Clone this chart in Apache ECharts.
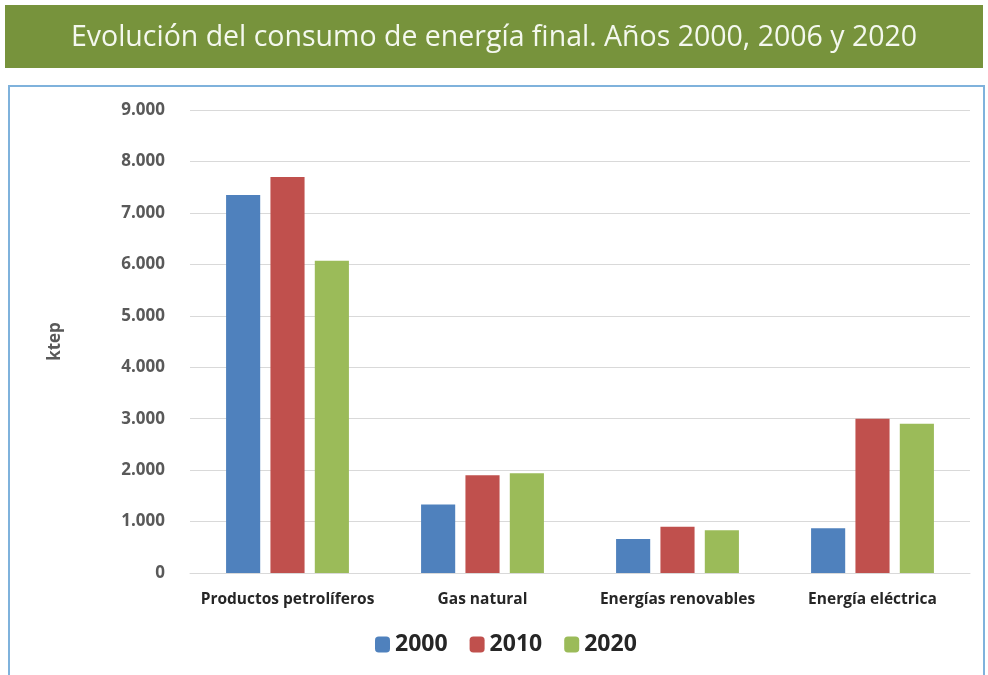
<!DOCTYPE html>
<html>
<head>
<meta charset="utf-8">
<script src="https://cdn.jsdelivr.net/npm/echarts@6/dist/echarts.min.js"></script>
<style>
  html, body { margin: 0; padding: 0; background: #fff; }
  #chart { width: 988px; height: 675px; }
</style>
</head>
<body>
<div id="chart"></div>
<script>
// categorías y valores (ktep)
const categories = ['Productos petrolíferos', 'Gas natural', 'Energías renovables', 'Energía eléctrica'];
const years = ['2000', '2010', '2020'];
const values2000 = [7350, 1330, 660, 870];
const values2010 = [7700, 1900, 900, 3000];
const values2020 = [6070, 1940, 830, 2900];
const colors = ['#4f81bd', '#c0504d', '#9bbb59'];

const chartInstance = echarts.init(document.getElementById('chart'));

// formato con punto de miles
const fmt = v => v === 0 ? '0' : String(v).replace(/\B(?=(\d{3})+(?!\d))/g, '.');

const option = {
  color: colors,
  animation: false,
  title: {
    text: 'Evolución del consumo de energía final. Años 2000, 2006 y 2020',
    left: 'center',
    top: 18,
    textStyle: {
      color: '#f4f8ee',
      fontFamily: 'Open Sans',
      fontWeight: 'normal',
      fontSize: 28.5
    }
  },
  graphic: [
    {
      type: 'rect',
      z: -1,
      shape: { x: 5, y: 5, width: 978, height: 63 },
      style: { fill: '#77933c' }
    },
    {
      type: 'rect',
      z: -1,
      shape: { x: 9, y: 86, width: 975, height: 600 },
      style: { fill: '#fff', stroke: '#7fb2dc', lineWidth: 2 }
    }
  ],
  legend: {
    data: years,
    bottom: 14,
    left: 370,
    itemWidth: 15,
    itemHeight: 16,
    itemGap: 22,
    textStyle: {
      color: '#262626',
      fontWeight: 'bold',
      fontFamily: 'Open Sans',
      fontSize: 23
    }
  },
  grid: {
    left: 190,
    right: 18,
    top: 110,
    bottom: 102
  },
  xAxis: {
    type: 'category',
    data: categories,
    axisTick: { show: false },
    axisLine: { lineStyle: { color: '#d9d9d9' } },
    axisLabel: {
      interval: 0,
      color: '#262626',
      fontWeight: 'bold',
      fontFamily: 'Open Sans',
      fontSize: 15.5,
      margin: 19
    }
  },
  yAxis: {
    type: 'value',
    min: 0,
    max: 9000,
    interval: 1000,
    name: 'ktep',
    nameLocation: 'middle',
    nameGap: 126,
    nameTextStyle: {
      color: '#595959',
      fontWeight: 'bold',
      fontFamily: 'Open Sans',
      fontSize: 17
    },
    axisLabel: {
      formatter: fmt,
      color: '#595959',
      fontWeight: 'bold',
      fontFamily: 'Open Sans',
      fontSize: 17,
      margin: 25
    },
    splitLine: { lineStyle: { color: '#d9d9d9' } }
  },
  series: [
    { name: years[0], type: 'bar', data: values2000, barGap: '30%', barCategoryGap: '37%' },
    { name: years[1], type: 'bar', data: values2010, barGap: '30%', barCategoryGap: '37%' },
    { name: years[2], type: 'bar', data: values2020, barGap: '30%', barCategoryGap: '37%' }
  ]
};

chartInstance.setOption(option);
window.addEventListener('resize', function () {
  chartInstance.resize();
});
</script>
</body>
</html>
